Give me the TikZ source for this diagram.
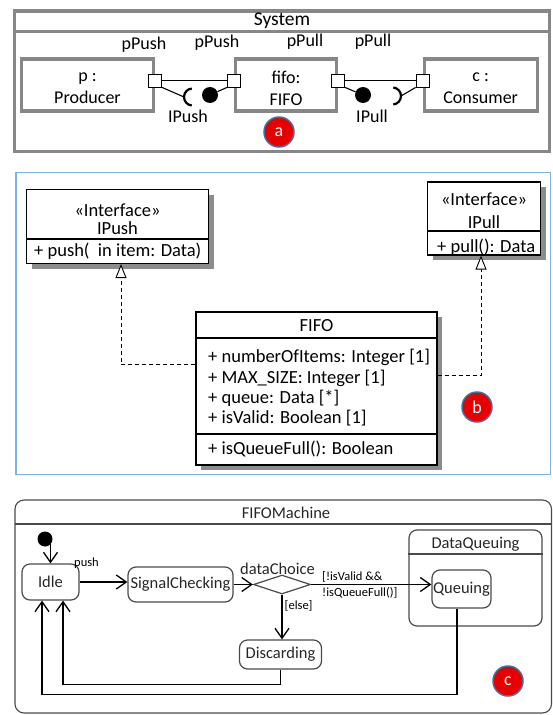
\documentclass[tikz,border=0pt]{standalone}
\usepackage{fontspec}
\setmainfont{Carlito}
\usetikzlibrary{positioning, arrows.meta, calc, shapes.geometric, shadows}
\definecolor{framegray}{HTML}{878787}
\definecolor{bframe}{HTML}{7EB2E4}
\definecolor{badgeblue}{HTML}{41719C}
\definecolor{badgered}{HTML}{E60000}
\definecolor{smgray}{HTML}{4A4A4A}
\newcommand\partfont{\fontsize{18}{22}\selectfont}
\newcommand\classfont{\fontsize{18.5}{20}\selectfont}
\newcommand\statefont{\fontsize{16.5}{19}\selectfont}
\newcommand\guardfont{\fontsize{12.5}{16}\selectfont}
\tikzset{
  part/.style={draw=framegray, line width=3.3pt, minimum height=52pt},
  port/.style={draw, fill=white, line width=0.9pt, minimum size=13pt, inner sep=0pt},
  ball/.style={circle, fill=black, minimum size=16pt, inner sep=0pt},
  plabel/.style={font=\partfont, inner sep=0pt},
  badge/.style={circle, fill=badgered, draw=badgeblue, line width=1.5pt, minimum size=30pt,
    inner sep=0pt, text=white, font=\fontsize{18}{20}\selectfont},
  classbox/.style={draw, line width=1.2pt, fill=white,
    drop shadow={shadow xshift=5pt, shadow yshift=-5pt, opacity=1, fill=black!45}},
  ctext/.style={font=\classfont, inner sep=0pt},
  realize/.style={dash pattern=on 4pt off 3pt, line width=0.9pt,
    -{Triangle[open, fill=white, length=14pt, width=11pt]}},
  state/.style={draw=smgray, line width=1.2pt, rounded corners=8pt, font=\statefont,
    text=black!85, inner sep=0pt},
  stext/.style={font=\statefont, text=black!85, inner sep=0pt},
  trans/.style={line width=1.3pt, -{Straight Barb[length=10pt, width=14pt]}},
  guard/.style={font=\guardfont, inner sep=0pt}
}

\begin{document}
\begin{tikzpicture}[x=1pt, y=-1pt]
  \useasboundingbox (0,0) rectangle (553,715);
  % (a) composite structure
  \draw[framegray, line width=3.3pt] (14.3,11) rectangle (549.5,151.7);
  \draw[framegray, line width=3.3pt] (14.3,31.7) -- (549.5,31.7);
  \node[plabel, font=\fontsize{19.5}{22}\selectfont] (systitle) at (282,21) {System};
  \node[part, minimum width=132pt] (prod) at (87.5,85) {};
  \node[part, minimum width=101pt] (fifo) at (286,85) {};
  \node[part, minimum width=113pt] (cons) at (480.7,85) {};
  \node[plabel, align=center] (prodtxt) at ([yshift=-3.5pt]prod.center) {p :\\Producer};
  \node[plabel, align=center] (fifotxt) at ([yshift=-3.5pt]fifo.center) {fifo:\\FIFO};
  \node[plabel, align=center] (constxt) at ([yshift=-3.5pt]cons.center) {c :\\Consumer};
  \node[port] (pprod) at ([yshift=4.5pt]prod.east) {};
  \node[port] (pfifoin) at ([yshift=4.5pt]fifo.west) {};
  \node[port] (pfifoout) at ([yshift=4.5pt]fifo.east) {};
  \node[port] (pcons) at ([yshift=4.5pt]cons.west) {};
  \draw[line width=1.1pt] (pprod.east) -- (pfifoin.west);
  \draw[line width=1.1pt] (pfifoout.east) -- (pcons.west);
  \node[ball] (ballpush) at (210,95) {};
  \node[ball] (ballpull) at (363,95) {};
  \coordinate (sockpush) at (184,97);
  \coordinate (sockpull) at (401,96);
  \draw[line width=1.1pt] (pprod.south east) -- (sockpush);
  \draw[line width=2.2pt] (sockpush) arc[start angle=180, end angle=95, radius=8.5];
  \draw[line width=2.2pt] (sockpush) arc[start angle=180, end angle=265, radius=8.5];
  \draw[line width=1.1pt] (pfifoin.south west) -- (ballpush);
  \draw[line width=1.1pt] (pfifoout.south east) -- (ballpull);
  \draw[line width=1.1pt] (pcons.south west) -- (sockpull);
  \draw[line width=2.2pt] (sockpull) arc[start angle=0, end angle=85, radius=8.5];
  \draw[line width=2.2pt] (sockpull) arc[start angle=0, end angle=-85, radius=8.5];
  \node[plabel] (lpp) at (144,45) {pPush};
  \node[plabel] (lfp) at (217,43) {pPush};
  \node[plabel] (lfq) at (305,42) {pPull};
  \node[plabel] (lcq) at (373,42) {pPull};
  \node[plabel] (lipush) at (188,116) {IPush};
  \node[plabel] (lipull) at (372,116) {IPull};
  \node[badge] (bada) at (279,132) {a};

  % (b) class diagram
  \draw[bframe, line width=1.5pt] (16,172.5) rectangle (550.5,474.5);
  \node[classbox, minimum width=182pt, minimum height=74pt] (ipush) at (117.5,226.5) {};
  \draw[line width=1.2pt] (ipush.west |- 0,239) -- (ipush.east |- 0,239);
  \node[ctext] (ipushst) at (117.5,210) {«Interface»};
  \node[ctext] (ipushname) at (117.5,228) {IPush};
  \node[ctext, anchor=west] (ipushop) at (34,251) {+ push(\ \ in item: Data)};
  \node[classbox, minimum width=113pt, minimum height=73pt] (ipull) at (484,218.5) {};
  \draw[line width=1.2pt] (ipull.west |- 0,231) -- (ipull.east |- 0,231);
  \node[ctext] (ipullst) at (484,199.5) {«Interface»};
  \node[ctext] (ipullname) at (484,222) {IPull};
  \node[ctext, anchor=west] (ipullop) at (437,247) {+ pull(): Data};
  \node[classbox, minimum width=241pt, minimum height=153pt] (fifocls) at (316.5,388.5) {};
  \draw[line width=1.2pt] (fifocls.west |- 0,338) -- (fifocls.east |- 0,338);
  \draw[line width=1.2pt] (fifocls.west |- 0,434) -- (fifocls.east |- 0,434);
  \node[ctext] (fifoname) at (316.5,326) {FIFO};
  \node[ctext, anchor=west] (attra) at (208,357) {+ numberOfItems: Integer [1]};
  \node[ctext, anchor=west] (attrb) at (208,378) {+ MAX\_SIZE: Integer [1]};
  \node[ctext, anchor=west] (attrc) at (208,398) {+ queue: Data [*]};
  \node[ctext, anchor=west] (attrd) at (208,418) {+ isValid: Boolean [1]};
  \node[ctext, anchor=west] (opa) at (208,449) {+ isQueueFull(): Boolean};
  \draw[realize] ([yshift=-53pt]fifocls.north west) -| ([xshift=3.5pt]ipush.south);
  \draw[realize] ([yshift=-64pt]fifocls.north east) -| ([xshift=-3pt]ipull.south);
  \node[badge] (badb) at (477,407) {b};

  % (c) state machine
  \draw[smgray, line width=1.1pt, rounded corners=9pt] (15,500) rectangle (551.5,713);
  \draw[smgray, line width=1.1pt] (15,524) -- (551.5,524);
  \node[stext] (smtitle) at (286,513) {FIFOMachine};
  \node[state, minimum width=133pt, minimum height=96pt] (dq) at (475.5,578) {};
  \draw[smgray, line width=1.2pt] (dq.west |- 0,554) -- (dq.east |- 0,554);
  \node[stext] (dqname) at (475.5,544) {DataQueuing};
  \node[circle, fill=black, minimum size=15pt, inner sep=0pt] (init) at (45,539) {};
  \node[state, minimum width=57pt, minimum height=36pt] (idle) at (50.5,582) {Idle};
  \node[state, minimum width=105pt, minimum height=35pt] (sigcheck) at (180.5,584.5) {SignalChecking};
  \node[diamond, draw=smgray, line width=1.2pt, minimum width=57pt, minimum height=19pt,
    inner sep=0pt] (dchoice) at (282,584.5) {};
  \node[stext] (dclabel) at (277.5,569) {dataChoice};
  \node[state, minimum width=82pt, minimum height=29pt] (discard) at (280.5,654.5) {Discarding};
  \node[state, minimum width=59pt, minimum height=38pt] (queuing) at (461.5,589) {Queuing};
  \draw[trans] (idle.north |- init) -- (idle.north);
  \draw[trans] (idle.east) -- (idle.east -| sigcheck.west);
  \node[guard] (pushlbl) at (86.5,563) {push};
  \draw[trans] (sigcheck.east) -- (dchoice.west);
  \draw[trans] (dchoice.east) -- (dchoice.east -| queuing.west);
  \node[guard, align=left, anchor=west] (guardok) at (322,585) {[!isValid \&\&\\!isQueueFull()]};
  \draw[trans] (dchoice.south) -- (dchoice.south |- discard.north);
  \node[guard, anchor=west] (elselbl) at (284.5,606) {[else]};
  \draw[trans] (discard.south) -- ++(0,15) -| ([xshift=12.5pt]idle.south);
  \draw[trans] ([xshift=-4.5pt]queuing.south) -- ++(0,86) -| ([xshift=-8.5pt]idle.south);
  \node[badge] (badc) at (508,681) {c};
\end{tikzpicture}
\end{document}
